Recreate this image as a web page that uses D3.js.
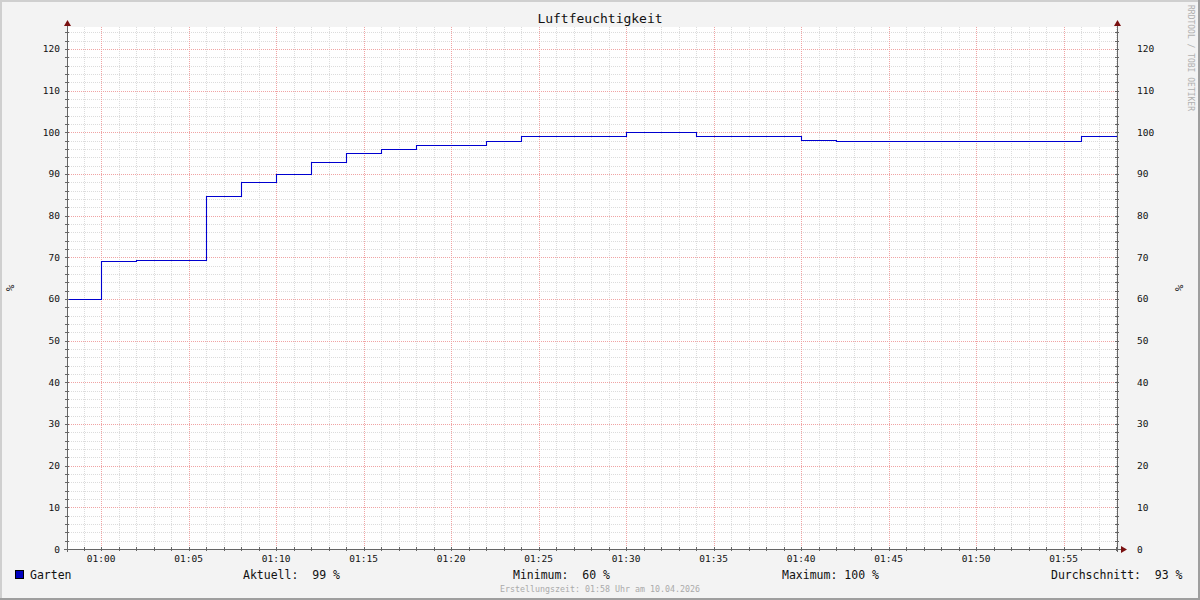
<!DOCTYPE html>
<html><head><meta charset="utf-8">
<script src="https://cdn.jsdelivr.net/npm/d3@7"></script>
<style>body{margin:0;background:#fff}svg text{font-family:"DejaVu Sans Mono",monospace}</style>
</head><body><svg id="c" width="1200" height="600"></svg>
<script>
// ---- data ----
const title = "Luftfeuchtigkeit";
const unitLabel = "%";
const seriesName = "Garten";
const domainStart = "00:58:03";
const domainEnd = "01:58:03";
const stepTimes = ["00:58:03","01:00:00","01:02:00","01:06:00","01:08:00","01:10:00","01:12:00","01:14:00","01:16:00","01:18:00","01:22:00","01:24:00","01:30:00","01:34:00","01:40:00","01:42:00","01:56:00"];
const stepValues = [60, 69, 69.3, 84.7, 88.1, 90, 92.9, 95, 96, 97, 97.9, 99.1, 100, 99.1, 98.2, 97.9, 99.1];
const yTicks = [0,10,20,30,40,50,60,70,80,90,100,110,120];
const yMax = 125;
const legendLabels = ["Aktuell:  99 %", "Minimum:  60 %", "Maximum: 100 %", "Durchschnitt:  93 %"];
const footer = "Erstellungszeit: 01:58 Uhr am 10.04.2026";
const watermark = "RRDTOOL / TOBI OETIKER";

// ---- layout ----
const W = 1200, H = 600;
const L = 67, R = 1117, T = 28, B = 549;
const parse = d3.timeParse("%H:%M:%S");
const svg = d3.select("#c");

svg.append("rect").attr("width", W).attr("height", H).attr("fill", "#f3f3f3");
// 3D border
svg.append("rect").attr("x",0).attr("y",0).attr("width",W).attr("height",2).attr("fill","#cfcfcf");
svg.append("rect").attr("x",0).attr("y",0).attr("width",2).attr("height",H).attr("fill","#cfcfcf");
svg.append("rect").attr("x",0).attr("y",H-2).attr("width",W).attr("height",2).attr("fill","#9e9e9e");
svg.append("rect").attr("x",W-2).attr("y",0).attr("width",2).attr("height",H).attr("fill","#9e9e9e");

const x = d3.scaleTime().domain([parse(domainStart), parse(domainEnd)]).range([L, R]);
const y = d3.scaleLinear().domain([0, yMax]).range([B, T]);

svg.append("rect").attr("x", L).attr("y", T - 1).attr("width", R - L).attr("height", B - T + 1).attr("fill", "#fff");

const g = svg.append("g").attr("shape-rendering", "crispEdges");
// minor grid
const xMinor = x.ticks(d3.timeMinute.every(1));
const xMajor = x.ticks(d3.timeMinute.every(5));
const isMajorX = d => d.getMinutes() % 5 === 0;
const yMinor = d3.range(0, yMax, 2);
const minorCol = "#dcdcdc", majorCol = "#f0a4a4";
g.selectAll(".xmi").data(xMinor.filter(d => !isMajorX(d))).join("line")
  .attr("x1", d => Math.round(x(d)) + 0.5).attr("x2", d => Math.round(x(d)) + 0.5)
  .attr("y1", T - 1).attr("y2", B).attr("stroke", minorCol).attr("stroke-dasharray", "1,1");
g.selectAll(".ymi").data(yMinor.filter(v => v % 10 !== 0)).join("line")
  .attr("x1", L).attr("x2", R).attr("y1", d => Math.round(y(d)) + 0.5).attr("y2", d => Math.round(y(d)) + 0.5)
  .attr("stroke", minorCol).attr("stroke-dasharray", "1,1");
// major grid
g.selectAll(".xma").data(xMajor).join("line")
  .attr("x1", d => Math.round(x(d)) + 0.5).attr("x2", d => Math.round(x(d)) + 0.5)
  .attr("y1", T - 1).attr("y2", B).attr("stroke", majorCol).attr("stroke-dasharray", "1,1");
g.selectAll(".yma").data(yTicks.filter(v => v > 0)).join("line")
  .attr("x1", L).attr("x2", R).attr("y1", d => Math.round(y(d)) + 0.5).attr("y2", d => Math.round(y(d)) + 0.5)
  .attr("stroke", majorCol).attr("stroke-dasharray", "1,1");

// data line
const pts = stepTimes.map((t, i) => [parse(t), stepValues[i]]);
pts.push([parse(domainEnd), stepValues[stepValues.length - 1]]);
const line = d3.line().x(d => Math.round(x(d[0])) + 0.5).y(d => Math.round(y(d[1])) + 0.5).curve(d3.curveStepAfter);
svg.append("path").datum(pts).attr("d", line).attr("fill", "none").attr("stroke", "#0000d0").attr("stroke-width", 1.1);

// axes lines
const axc = "#666";
const a = svg.append("g").attr("shape-rendering", "crispEdges");
a.append("line").attr("x1", L + 0.5).attr("x2", L + 0.5).attr("y1", 22).attr("y2", B + 3).attr("stroke", axc);
a.append("line").attr("x1", R + 0.5).attr("x2", R + 0.5).attr("y1", 22).attr("y2", B + 3).attr("stroke", axc);
a.append("line").attr("x1", L - 3).attr("x2", R + 6).attr("y1", B + 0.5).attr("y2", B + 0.5).attr("stroke", axc);
// ticks
a.selectAll(".ytk").data(yMinor).join("line")
  .attr("x1", L - 2).attr("x2", L + 2).attr("y1", d => Math.round(y(d)) + 0.5).attr("y2", d => Math.round(y(d)) + 0.5).attr("stroke", axc);
a.selectAll(".ytk2").data(yMinor).join("line")
  .attr("x1", R - 2).attr("x2", R + 2).attr("y1", d => Math.round(y(d)) + 0.5).attr("y2", d => Math.round(y(d)) + 0.5).attr("stroke", axc);
a.selectAll(".xtk").data(xMinor).join("line")
  .attr("x1", d => Math.round(x(d)) + 0.5).attr("x2", d => Math.round(x(d)) + 0.5).attr("y1", B - 2).attr("y2", B + 2).attr("stroke", axc);
// arrows
const arc = "#7a1010";
svg.append("path").attr("d", `M${L-3},${26} L${L+0.5},${20} L${L+4},${26} Z`).attr("fill", arc);
svg.append("path").attr("d", `M${R-3},${26} L${R+0.5},${20} L${R+4},${26} Z`).attr("fill", arc);
svg.append("path").attr("d", `M${R+4},${B-3} L${R+10},${B+0.5} L${R+4},${B+4} Z`).attr("fill", arc);

// y labels
svg.selectAll(".yl").data(yTicks).join("text")
  .attr("x", 60).attr("y", d => y(d) + 3.5).attr("text-anchor", "end").attr("font-size", 9.5).attr("fill", "#111").text(d => d);
svg.selectAll(".yr").data(yTicks).join("text")
  .attr("x", 1137).attr("y", d => y(d) + 3.5).attr("text-anchor", "start").attr("font-size", 9.5).attr("fill", "#111").text(d => d);
// x labels
const fmt = d3.timeFormat("%H:%M");
svg.selectAll(".xl").data(xMajor).join("text")
  .attr("x", d => x(d)).attr("y", 562).attr("text-anchor", "middle").attr("font-size", 9.5).attr("fill", "#111").text(fmt);

// title
svg.append("text").attr("x", 600).attr("y", 23).attr("text-anchor", "middle").attr("font-size", 13).attr("fill", "#111").text(title);
// unit labels
svg.append("text").attr("transform", "translate(14,288) rotate(-90)").attr("text-anchor", "middle").attr("font-size", 11).attr("fill", "#111").text(unitLabel);
svg.append("text").attr("transform", "translate(1183,288) rotate(-90)").attr("text-anchor", "middle").attr("font-size", 11).attr("fill", "#111").text(unitLabel);
// watermark
svg.append("text").attr("transform", "translate(1188,5) rotate(90)").attr("text-anchor", "start").attr("font-size", 8).attr("fill", "#b0b0b0").text(watermark);

// legend
svg.append("rect").attr("x", 15.5).attr("y", 570.5).attr("width", 8).attr("height", 8).attr("fill", "#0000c0").attr("stroke", "#000");
svg.append("text").attr("x", 30).attr("y", 579).attr("font-size", 11.5).attr("fill", "#111").text(seriesName);
const legX = [243, 513, 782, 1051];
svg.selectAll(".lg").data(legendLabels).join("text")
  .attr("x", (d, i) => legX[i]).attr("y", 579).attr("font-size", 11.5).attr("fill", "#111").style("white-space", "pre").text(d => d);
svg.append("text").attr("x", 600).attr("y", 592).attr("text-anchor", "middle").attr("font-size", 8.3).attr("fill", "#aaa").text(footer);
</script></body></html>
